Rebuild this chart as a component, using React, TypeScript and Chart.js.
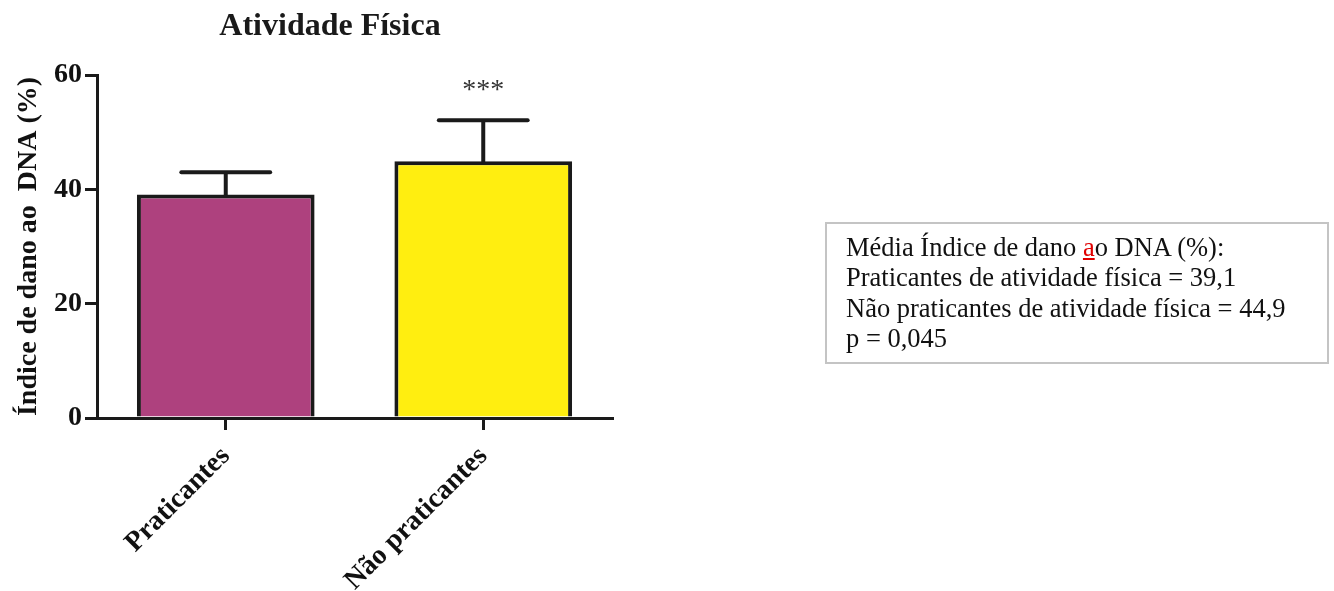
import React, { useEffect, useRef } from 'react';
import { Chart, registerables } from 'chart.js';

Chart.register(...registerables);

// ---- data ----
const categories = ['Praticantes', 'Não praticantes'];
const means = [39.1, 44.9];
const errors = [3.9, 7.2];
const significance = ['', '***'];
const yTicks = [0, 20, 40, 60];
const barColors = ['#AE417E', '#FFEE10'];
const chartTitle = 'Atividade Física';
const yAxisTitle = 'Índice de dano ao  DNA (%)';
const noteLines = [
  'Praticantes de atividade física = 39,1',
  'Não praticantes de atividade física = 44,9',
  'p = 0,045',
];

const SERIF = "'Liberation Serif', 'Times New Roman', serif";
const INK = '#1a1a1a';

const W = 1334;
const H = 591;

const overlayPlugin = {
  id: 'overlay',
  afterDatasetsDraw(chart: any) {
    const ctx = chart.ctx;
    const meta = chart.getDatasetMeta(0);
    const y = chart.scales.y;
    ctx.save();
    ctx.strokeStyle = INK;
    ctx.lineWidth = 4;
    meta.data.forEach((bar: any, i: number) => {
      const topPx = y.getPixelForValue(means[i] + errors[i]);
      const half = bar.width * 0.25;
      ctx.lineCap = 'butt';
      ctx.beginPath();
      ctx.moveTo(bar.x, bar.y + 2);
      ctx.lineTo(bar.x, topPx);
      ctx.stroke();
      ctx.lineCap = 'round';
      ctx.beginPath();
      ctx.moveTo(bar.x - half, topPx);
      ctx.lineTo(bar.x + half, topPx);
      ctx.stroke();
      if (significance[i]) {
        ctx.fillStyle = '#333';
        ctx.font = `28px ${SERIF}`;
        ctx.textAlign = 'center';
        ctx.textBaseline = 'alphabetic';
        ctx.fillText(significance[i], bar.x, topPx - 22);
      }
    });
    ctx.restore();
  },
  afterDraw(chart: any) {
    const ctx = chart.ctx;
    ctx.save();
    ctx.fillStyle = INK;
    ctx.font = `bold 32px ${SERIF}`;
    ctx.textAlign = 'center';
    ctx.textBaseline = 'alphabetic';
    ctx.fillText(chartTitle, 330, 35);
    ctx.restore();
  },
};

export default function App() {
  const canvasRef = useRef<HTMLCanvasElement | null>(null);

  useEffect(() => {
    if (!canvasRef.current) return;
    const chart = new Chart(canvasRef.current, {
      type: 'bar',
      data: {
        labels: categories,
        datasets: [
          {
            data: means,
            backgroundColor: barColors,
            borderColor: INK,
            borderWidth: 4,
            borderSkipped: 'start',
            categoryPercentage: 1,
            barPercentage: 0.69,
          },
        ],
      },
      options: {
        responsive: false,
        animation: false,
        devicePixelRatio: 1,
        layout: { padding: { left: 0, top: 75, right: W - 612, bottom: 0 } },
        plugins: {
          legend: { display: false },
          tooltip: { enabled: false },
          title: { display: false },
        },
        scales: {
          x: {
            grid: {
              display: true,
              offset: false,
              drawOnChartArea: false,
              drawTicks: true,
              tickLength: 12,
              lineWidth: 3,
              color: INK,
            },
            border: { display: true, color: INK, width: 3 },
            ticks: {
              autoSkip: false,
              minRotation: 45,
              maxRotation: 45,
              padding: 10,
              color: '#111',
              font: { family: SERIF, size: 28, weight: 'bold' },
            },
            afterFit: (scale: any) => {
              scale.height = H - 418;
            },
          },
          y: {
            min: yTicks[0],
            max: yTicks[yTicks.length - 1],
            grid: {
              display: true,
              drawOnChartArea: false,
              drawTicks: true,
              tickLength: 12,
              lineWidth: 3,
              color: INK,
            },
            border: { display: true, color: INK, width: 3 },
            ticks: {
              stepSize: yTicks[1] - yTicks[0],
              padding: 3,
              color: '#111',
              font: { family: SERIF, size: 28, weight: 'bold' },
            },
            title: {
              display: true,
              text: yAxisTitle,
              color: '#111',
              padding: { top: 12, bottom: 0 },
              font: { family: SERIF, size: 28, weight: 'bold' },
            },
            afterFit: (scale: any) => {
              scale.width = 97;
            },
          },
        },
      },
      plugins: [overlayPlugin],
    } as any);
    return () => chart.destroy();
  }, []);

  return (
    <div style={{ position: 'absolute', left: 0, top: 0, width: W, height: H, background: '#fff', overflow: 'hidden' }}>
      <canvas ref={canvasRef} width={W} height={H} style={{ display: 'block', width: W, height: H }} />
      <div
        style={{
          position: 'absolute',
          left: 825,
          top: 222,
          width: 504,
          height: 142,
          boxSizing: 'border-box',
          border: '2px solid #c4c4c4',
          padding: '8px 0 0 19px',
          fontFamily: SERIF,
          fontSize: '26.5px',
          lineHeight: '30.4px',
          color: '#111',
          whiteSpace: 'nowrap',
        }}
      >
        <div>
          Média Índice de dano{' '}
          <span style={{ color: '#e00000', textDecoration: 'underline' }}>a</span>o DNA (%):
        </div>
        {noteLines.map((t) => (
          <div key={t}>{t}</div>
        ))}
      </div>
    </div>
  );
}
